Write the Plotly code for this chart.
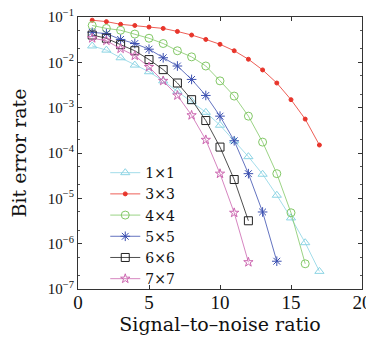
import plotly.graph_objects as go

snr = list(range(1, 18))

ber_1x1 = [0.023, 0.0186, 0.0126, 0.0087, 0.0062, 0.0039, 0.0023, 0.00138, 7.9e-4,
           4.1e-4, 1.86e-4, 8.3e-5, 3.4e-5, 1.17e-5, 3.7e-6, 1.05e-6, 2.45e-7]
ber_3x3 = [0.085, 0.079, 0.069, 0.065, 0.060, 0.056, 0.048, 0.040, 0.032,
           0.025, 0.018, 0.0117, 0.0068, 0.0035, 0.0015, 5.6e-4, 1.5e-4]
ber_4x4 = [0.065, 0.056, 0.051, 0.042, 0.034, 0.026, 0.018, 0.0132, 0.0083,
           0.0039, 0.0018, 6.5e-4, 1.74e-4, 3.5e-5, 4.8e-6, 3.6e-7]
ber_5x5 = [0.046, 0.043, 0.032, 0.026, 0.0195, 0.0126, 0.0083, 0.0042, 0.00186,
           6.5e-4, 1.86e-4, 3.5e-5, 5.0e-6, 4.1e-7]
ber_6x6 = [0.040, 0.034, 0.0245, 0.018, 0.0115, 0.0069, 0.0035, 0.0015, 5.2e-4,
           1.35e-4, 2.6e-5, 3.2e-6]
ber_7x7 = [0.034, 0.030, 0.020, 0.014, 0.0079, 0.0039, 0.00186, 6.8e-4, 1.95e-4,
           3.5e-5, 4.8e-6, 3.9e-7]

names = ["1×1", "3×3", "4×4", "5×5", "6×6", "7×7"]
series = [ber_1x1, ber_3x3, ber_4x4, ber_5x5, ber_6x6, ber_7x7]
colors = ["#8cd4e4", "#e8352b", "#82c866", "#3b4fb0", "#222222", "#cc66b0"]
symbols = ["triangle-up-open", "circle", "circle-open", "asterisk-open", "square-open", "star-open"]
sizes = [8, 4, 8, 8, 8, 7]

x_ticks = [0, 5, 10, 15, 20]
y_ticks = [1e-1, 1e-2, 1e-3, 1e-4, 1e-5, 1e-6, 1e-7]
y_ticktext = ["10<sup>−%d</sup>" % k for k in range(1, 8)]

FONT = "Liberation Serif"
TFONT = "DejaVu Serif"

fig = go.Figure()
for name, ys, c, s, sz in zip(names, series, colors, symbols, sizes):
    fig.add_trace(go.Scatter(
        x=snr[:len(ys)], y=ys, name=name, mode="lines+markers",
        line=dict(color=c, width=0.8),
        marker=dict(symbol=s, size=sz, color=c, line=dict(color=c, width=1)),
    ))

# the page body has an 8px default margin, so the figure is 8px smaller
fig.update_layout(
    width=366, height=331,
    margin=dict(l=70, r=12, t=9, b=50),
    paper_bgcolor="white", plot_bgcolor="white",
    font=dict(family=FONT, color="#111111", size=16),
    showlegend=True,
    legend=dict(x=0.096, y=0.485, xanchor="left", yanchor="top",
                bgcolor="rgba(0,0,0,0)", font=dict(size=14, family=TFONT),
                itemwidth=30, tracegroupgap=0),
    xaxis=dict(range=[0, 20], tickvals=x_ticks, ticktext=[str(v) for v in x_ticks],
               ticks="inside", ticklen=4, tickcolor="#333", showline=True,
               linecolor="#333", linewidth=1, mirror="ticks", showgrid=False,
               zeroline=False, tickfont=dict(size=19), ticklabelstandoff=-4,
               automargin=False, ticklabeloverflow="allow",
               title=dict(text="Signal–to–noise ratio", font=dict(size=19, family=TFONT),
                          standoff=0)),
    yaxis=dict(type="log", range=[-7, -1], tickvals=y_ticks, ticktext=y_ticktext,
               ticks="inside", ticklen=4, tickcolor="#333", showline=True,
               linecolor="#333", linewidth=1, mirror="ticks", showgrid=False,
               zeroline=False, tickfont=dict(size=15), automargin=False,
               ticklabeloverflow="allow",
               minor=dict(ticks="inside", ticklen=2, tickcolor="#555"),
               title=dict(text="Bit error rate", font=dict(size=19, family=TFONT),
                          standoff=22)),
)

fig.write_html("out.html")
